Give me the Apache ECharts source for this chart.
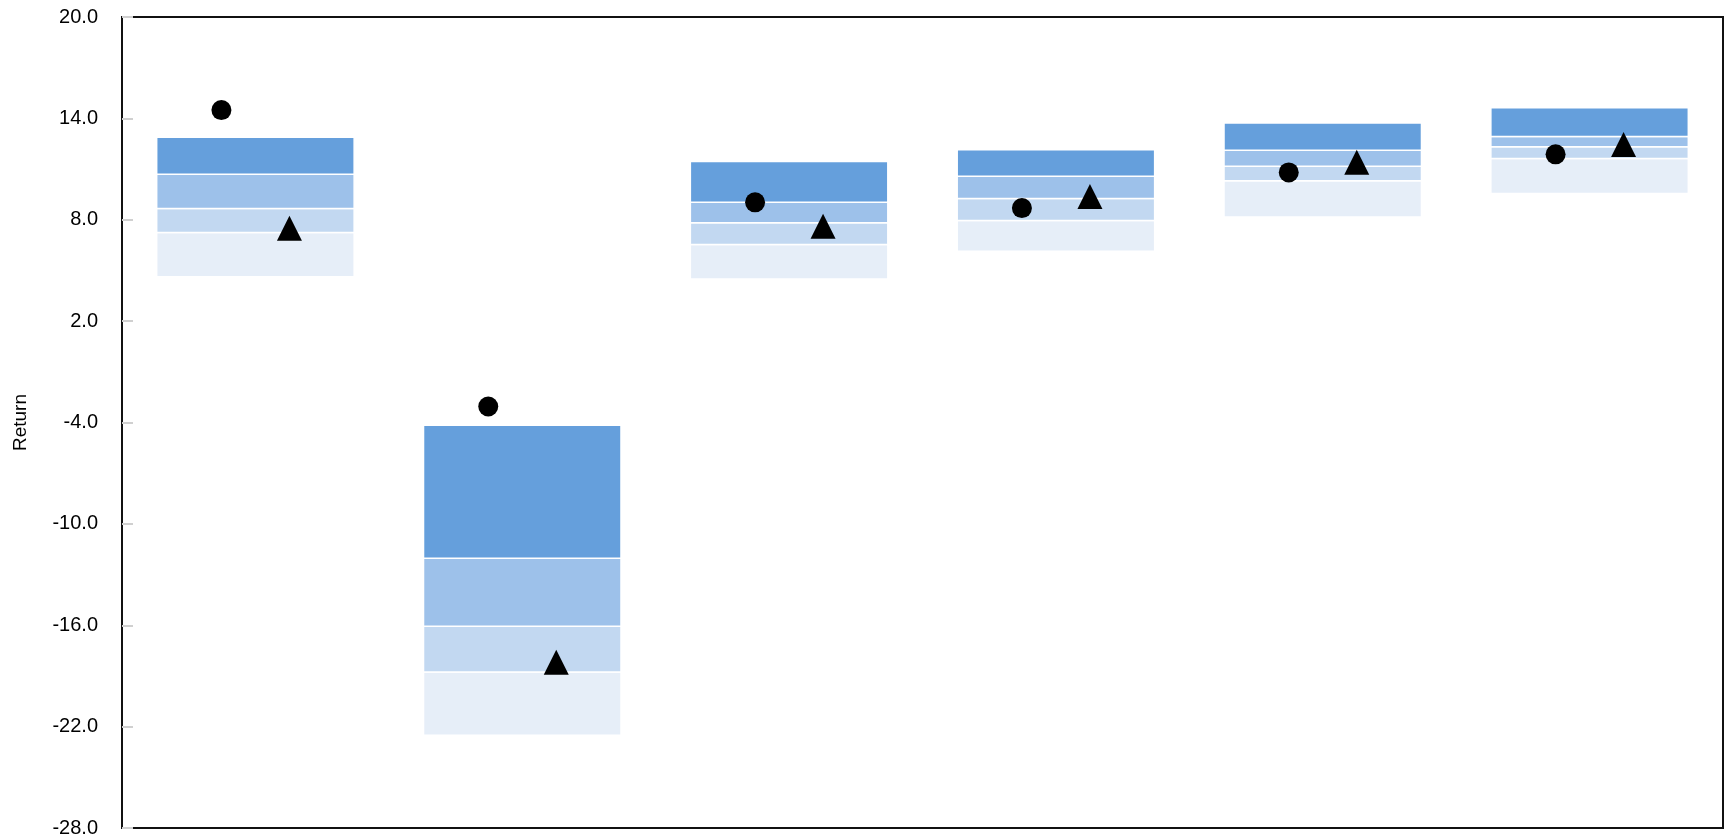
<!DOCTYPE html>
<html>
<head>
<meta charset="utf-8">
<script src="https://cdn.jsdelivr.net/npm/echarts@6/dist/echarts.min.js"></script>
<style>
  html, body { margin: 0; padding: 0; background: #fff; }
  #chart { width: 1731px; height: 838px; }
</style>
</head>
<body>
<div id="chart"></div>
<script>
// six groups, no axis labels in the original
const categories = ['1', '2', '3', '4', '5', '6'];

// percentile bands
const p5  = [4.62, -22.51, 4.49, 6.13, 8.16, 9.56];
const p25 = [7.25, -18.76, 6.54, 7.96, 10.31, 11.63];
const p50 = [8.67, -16.06, 7.82, 9.26, 11.16, 12.32];
const p75 = [10.69, -12.03, 9.03, 10.57, 12.12, 12.93];
const p95 = [12.88, -4.16, 11.45, 12.14, 13.72, 14.63];

// markers
const dotValues = [14.49, -3.05, 9.03, 8.69, 10.8, 11.87];
const triangleValues = [7.49, -18.19, 7.61, 9.38, 11.4, 12.46];

const yMin = -28;
const yMax = 20;
const yStep = 6;

const fontFamily = "'Liberation Sans Narrow', 'Arial Narrow', 'Liberation Sans', Arial, sans-serif";

const bandColors = ['#e6eef8', '#c2d8f1', '#9dc1ea', '#659fdc'];
const bands = [[p5, p25], [p25, p50], [p50, p75], [p75, p95]];

const chart = echarts.init(document.getElementById('chart'));

const bandSeries = bands.map(([lo, hi], i) => ({
  type: 'custom',
  name: 'band' + i,
  silent: true,
  data: categories.map((c, k) => [k, lo[k], hi[k]]),
  encode: { x: 0, y: [1, 2] },
  renderItem: (params, api) => {
    const idx = api.value(0);
    const bottom = api.coord([idx, api.value(1)]);
    const top = api.coord([idx, api.value(2)]);
    const w = api.size([1, 0])[0] * 0.74;
    return {
      type: 'rect',
      shape: { x: bottom[0] - w / 2, y: top[1], width: w, height: bottom[1] - top[1] },
      style: { fill: bandColors[i], stroke: '#ffffff', lineWidth: 1.5 }
    };
  }
}));

const option = {
  animation: false,
  grid: {
    left: 122,
    right: 8,
    top: 17,
    bottom: 9,
    show: true,
    borderColor: '#111',
    borderWidth: 2,
    containLabel: false
  },
  xAxis: {
    type: 'category',
    data: categories,
    axisLine: { show: false },
    axisTick: { show: false },
    axisLabel: { show: false },
    splitLine: { show: false }
  },
  yAxis: {
    type: 'value',
    min: yMin,
    max: yMax,
    interval: yStep,
    name: 'Return',
    nameLocation: 'middle',
    nameRotate: 90,
    nameGap: 92,
    nameTextStyle: { color: '#000', fontSize: 19, fontFamily: fontFamily },
    axisLine: { show: false },
    axisTick: { show: true, inside: true, length: 11, lineStyle: { color: '#d0d0d0', width: 2 } },
    axisLabel: {
      color: '#000',
      fontSize: 20,
      fontFamily: fontFamily,
      margin: 24,
      formatter: v => v.toFixed(1)
    },
    splitLine: { show: false }
  },
  series: [
    ...bandSeries,
    {
      type: 'scatter',
      data: dotValues,
      symbol: 'circle',
      symbolSize: 20,
      symbolOffset: [-34, 0],
      itemStyle: { color: '#000', opacity: 1 },
      z: 5
    },
    {
      type: 'scatter',
      data: triangleValues,
      symbol: 'triangle',
      symbolSize: 25,
      symbolOffset: [34, 0],
      itemStyle: { color: '#000', opacity: 1 },
      z: 5
    }
  ]
};

chart.setOption(option);
window.addEventListener('resize', () => chart.resize());
</script>
</body>
</html>
